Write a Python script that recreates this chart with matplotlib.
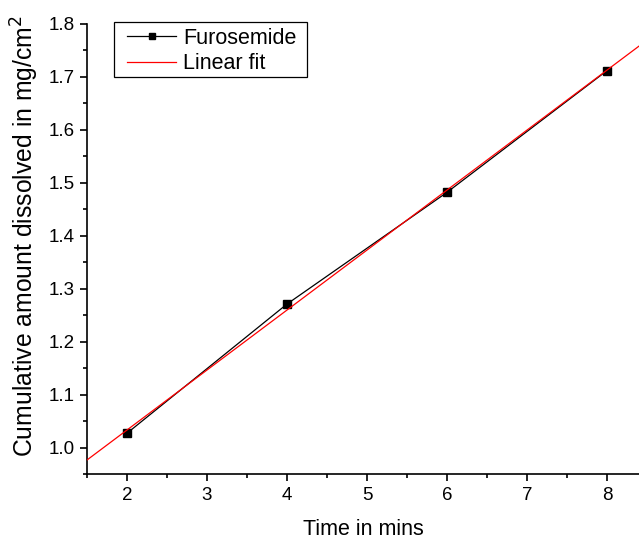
import numpy as np
import matplotlib
matplotlib.use("Agg")
import matplotlib.pyplot as plt
from matplotlib.ticker import MultipleLocator
from matplotlib.patches import Rectangle

plt.rcParams['font.family'] = ['Liberation Sans', 'DejaVu Sans']

time_mins = [2, 4, 6, 8]
furosemide = [1.027, 1.271, 1.482, 1.712]

slope, intercept = np.polyfit(time_mins, furosemide, 1)

W, H = 639, 541
fig = plt.figure(figsize=(W/100, H/100), dpi=100)
ax = fig.add_axes([87/W, 67/H, 1 - 87/W, (474-24)/H])

ax.plot(time_mins, furosemide, color='black', lw=0.9, marker='s', ms=6,
        markerfacecolor='black', markeredgecolor='black', label='Furosemide', zorder=3)
xfit = np.array([1.5, 8.4])
ax.plot(xfit, slope*xfit + intercept, color='red', lw=0.9, label='Linear fit', zorder=4)

ax.set_xlim(1.5, 8.4)
ax.set_ylim(0.95, 1.8)
ax.xaxis.set_major_locator(MultipleLocator(1))
ax.xaxis.set_minor_locator(MultipleLocator(0.5))
ax.yaxis.set_major_locator(MultipleLocator(0.1))
ax.yaxis.set_minor_locator(MultipleLocator(0.05))
ax.spines['top'].set_visible(False)
ax.spines['right'].set_visible(False)
for s in ['left', 'bottom']:
    ax.spines[s].set_linewidth(1.2)
ax.tick_params(which='major', direction='out', length=5, width=1.2, labelsize=13.5, pad=4)
ax.tick_params(which='minor', direction='out', length=3, width=1.2)
ax.set_yticks([1.0, 1.1, 1.2, 1.3, 1.4, 1.5, 1.6, 1.7, 1.8])
ax.set_yticklabels(['1.0', '1.1', '1.2', '1.3', '1.4', '1.5', '1.6', '1.7', '1.8'])

ax.set_xlabel('Time in mins', fontsize=15.5, labelpad=11)
ax.set_ylabel('Cumulative amount dissolved in mg/cm$^2$', fontsize=17.8, labelpad=5, y=0.53)

leg = ax.legend(loc='upper left', bbox_to_anchor=(114/W, 1 - 15/H),
                bbox_transform=fig.transFigure, borderaxespad=0,
                fontsize=15.5, frameon=False, markerscale=0.8,
                handlelength=2.3, borderpad=0.6, labelspacing=0.2, handletextpad=0.3)

fig.patches.append(Rectangle((114/W, 1 - 77/H), (307-114)/W, (77-22)/H,
                             transform=fig.transFigure, fill=False,
                             edgecolor='black', lw=0.9, zorder=5))

fig.savefig('out.png', dpi=100)
